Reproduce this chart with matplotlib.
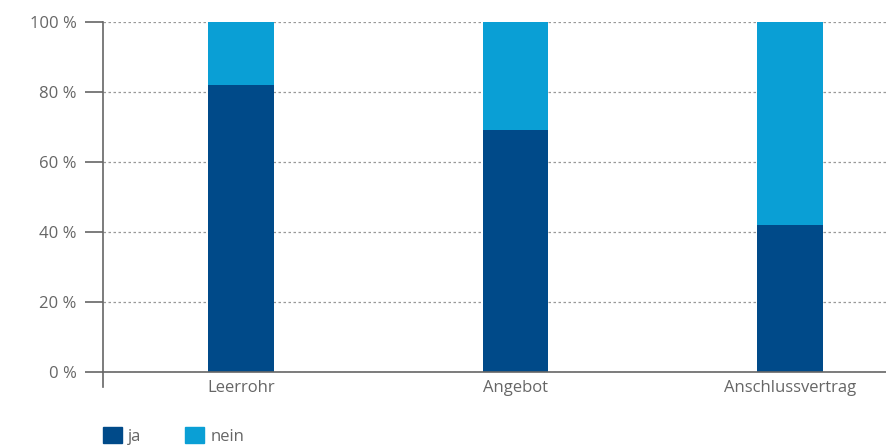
import matplotlib.pyplot as plt
from matplotlib.patches import Patch

# data
categories = ['Leerrohr', 'Angebot', 'Anschlussvertrag']
ja = [82, 69, 42]
nein = [18, 31, 58]

dark = '#004a89'
light = '#0a9fd5'
gray = '#666666'

plt.rcParams['font.family'] = ['Open Sans', 'DejaVu Sans']

fig = plt.figure(figsize=(8.86, 4.48), dpi=100)
ax = fig.add_axes([103 / 886, 76 / 448, 783 / 886, 350 / 448])

x = list(range(len(categories)))
ax.bar(x, ja, width=0.24, color=dark, zorder=3)
ax.bar(x, nein, width=0.24, bottom=ja, color=light, zorder=3)

ax.set_xlim(-0.503, 2.35)
ax.set_ylim(0, 100)
ax.set_yticks([0, 20, 40, 60, 80, 100])
ax.set_yticklabels(['%d %%' % v for v in [0, 20, 40, 60, 80, 100]])
ax.set_xticks(x)
ax.set_xticklabels(categories)

ax.grid(axis='y', linestyle=(0, (2, 2)), color='#999999', linewidth=0.9, zorder=0)
for s in ['top', 'right']:
    ax.spines[s].set_visible(False)
ax.spines['left'].set_color(gray)
ax.spines['bottom'].set_color(gray)
ax.spines['left'].set_linewidth(1.2)
ax.spines['bottom'].set_linewidth(1.2)
ax.spines['left'].set_bounds(-4.3, 100)
ax.spines['bottom'].set_zorder(4)

ax.tick_params(axis='y', length=13, width=1.2, color=gray, labelcolor=gray, labelsize=12, pad=6)
ax.tick_params(axis='x', length=0, labelcolor=gray, labelsize=12, pad=5.5)

handles = [Patch(color=dark, label='ja'), Patch(color=light, label='nein')]
fig.legend(handles=handles, loc='lower left', bbox_to_anchor=(91 / 886, -0.019), ncol=2,
           frameon=False, fontsize=12, handlelength=1.15, handleheight=1.1,
           handletextpad=0.35, columnspacing=2.65, borderpad=0.2, labelcolor=gray)

fig.savefig('out.png', dpi=100)
